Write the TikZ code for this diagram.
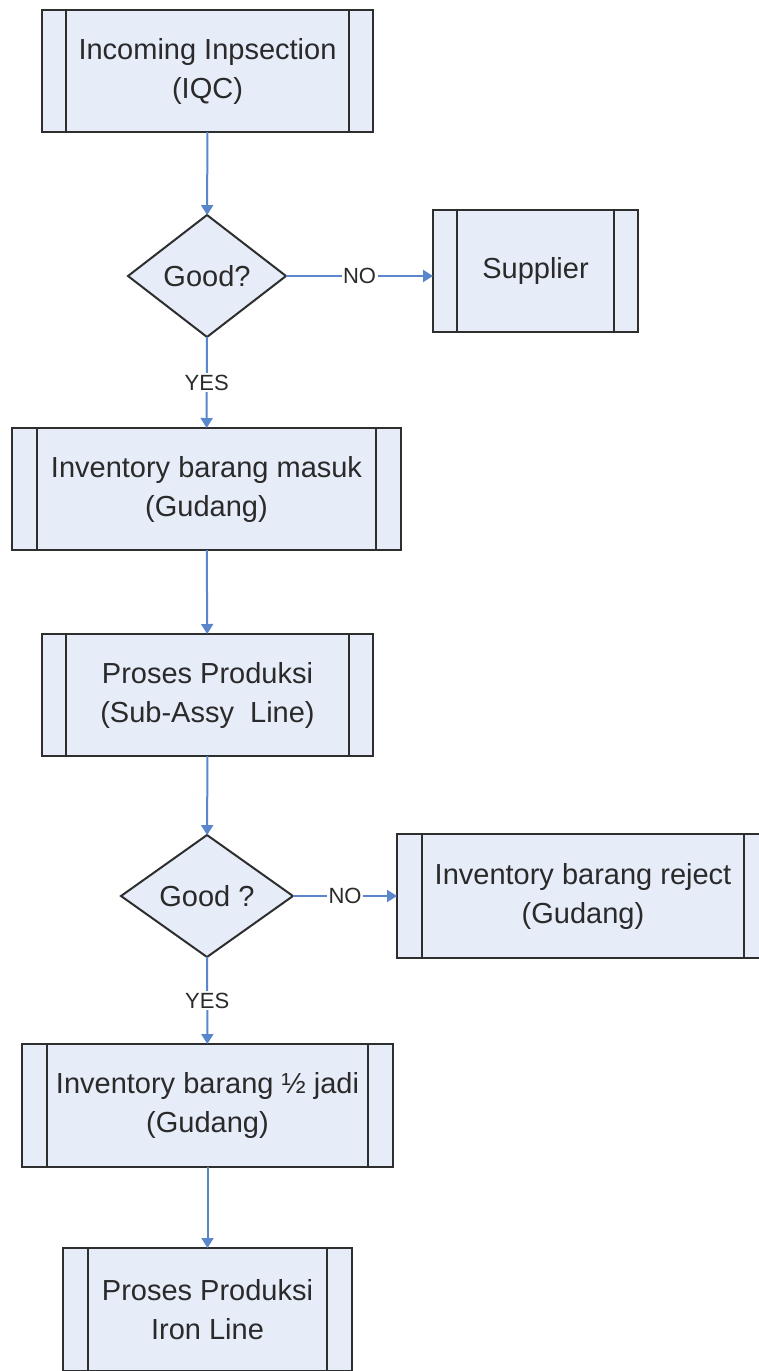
\documentclass[tikz,border=0pt]{standalone}
\usepackage{fontspec}
\setmainfont{Liberation Sans}
\usetikzlibrary{shapes.geometric,arrows.meta}
\definecolor{boxfill}{HTML}{E6ECF8}
\definecolor{flowblue}{HTML}{5A86CC}
\definecolor{edgegray}{HTML}{2E2E2E}
\definecolor{ink}{HTML}{2A2A2A}

\begin{document}
\begin{tikzpicture}[x=1pt,y=-1pt,
  procbox/.style={draw=edgegray, line width=2.4pt, fill=boxfill, rectangle,
    inner sep=0pt, outer sep=0pt, align=center, text=ink,
    font=\fontsize{29}{39}\selectfont, minimum height=122pt},
  decision/.style={draw=edgegray, line width=2pt, fill=boxfill, diamond,
    inner sep=0pt, outer sep=0pt},
  dtext/.style={text=ink, font=\fontsize{29}{35}\selectfont},
  flow/.style={draw=flowblue, line width=2pt,
    -{Triangle[length=10pt,width=12pt]}},
  tag/.style={fill=white, text=ink, font=\fontsize{22}{26}\selectfont,
    inner sep=1.5pt},
  sideline/.style={draw=edgegray, line width=2.4pt}
]
\useasboundingbox (0,0) rectangle (759,1371);
\clip (0,0) rectangle (759,1371);

% process boxes
\node[procbox, minimum width=331pt] (b1) at (207.5,71)
  {Incoming Inpsection\\(IQC)};
\node[decision, minimum width=158pt, minimum height=122pt,
  label={[dtext]center:Good?}] (d1) at (207,276) {};
\node[procbox, minimum width=205pt] (sup) at (535.5,271) {Supplier};
\node[procbox, minimum width=389pt] (b2) at (206.5,489)
  {Inventory barang masuk\\(Gudang)};
\node[procbox, minimum width=331pt] (b3) at (207.5,695)
  {Proses Produksi\\(Sub-Assy~ Line)};
\node[decision, minimum width=172pt, minimum height=122pt,
  label={[dtext]center:Good ?}] (d2) at (207,896) {};
\node[procbox, minimum width=372pt, minimum height=124pt] (rej) at (583,896)
  {Inventory barang reject\\(Gudang)};
\node[procbox, minimum width=371pt, minimum height=123pt] (b5) at (207.5,1105.5)
  {Inventory barang ½ jadi\\(Gudang)};
\node[procbox, minimum width=289pt, minimum height=123pt] (b6) at (207.5,1309.5)
  {Proses Produksi\\Iron Line};

% inner vertical bars of the predefined-process boxes
\foreach \n/\o in {b1/24, sup/24, b2/25, b3/24, rej/25, b5/25, b6/25}{
  \draw[sideline] ([xshift=\o pt]\n.north west) -- ([xshift=\o pt]\n.south west);
  \draw[sideline] ([xshift=-\o pt]\n.north east) -- ([xshift=-\o pt]\n.south east);
}

% connectors
\draw[flow] (b1) -- (d1);
\draw[flow] (d1.east) -- node[tag]{NO} (d1.east -| sup.west);
\draw[flow] (d1) -- node[tag]{YES} (b2);
\draw[flow] (b2) -- (b3);
\draw[flow] (b3) -- (d2);
\draw[flow] (d2.east) -- node[tag]{NO} (rej.west);
\draw[flow] (d2) -- node[tag]{YES} (b5);
\draw[flow] (b5) -- (b6);
\end{tikzpicture}
\end{document}
